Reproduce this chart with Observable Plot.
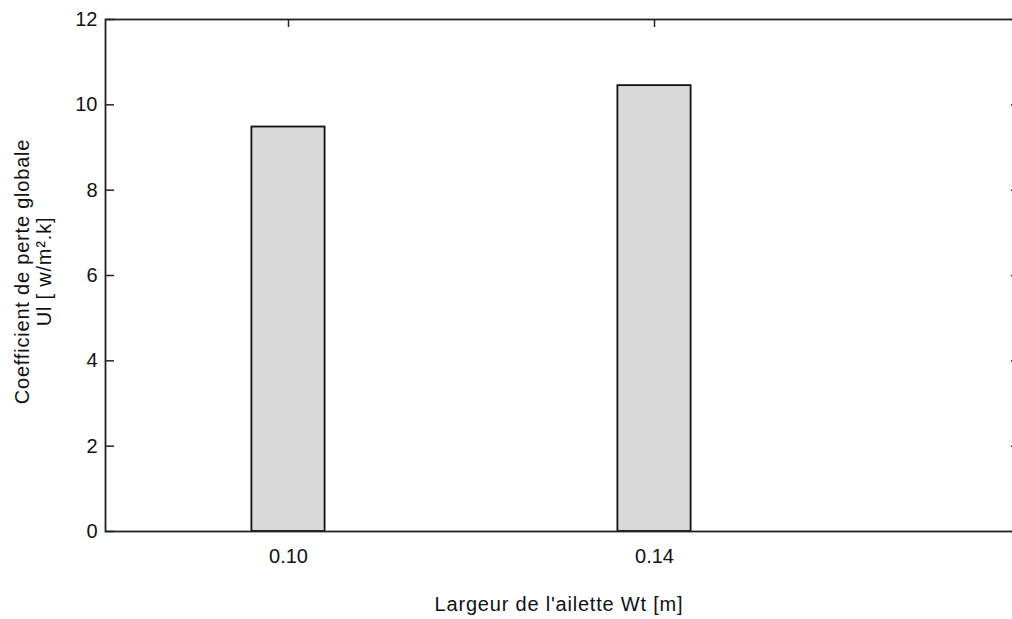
<!DOCTYPE html>
<html>
<head>
<meta charset="utf-8">
<script src="https://cdn.jsdelivr.net/npm/d3@7"></script>
<script src="https://cdn.jsdelivr.net/npm/@observablehq/plot@0.6"></script>
<style>
  html, body { margin: 0; padding: 0; background: #fff; }
  #chart { width: 1012px; height: 619px; overflow: hidden; }
</style>
</head>
<body>
<div id="chart"></div>
<script>
// Data
const categories = ["0.10", "0.14"];          // Largeur de l'ailette Wt [m]
const values = [9.48, 10.45];                 // Ul [w/m².k]
const yTicks = [0, 2, 4, 6, 8, 10, 12];
const xTitle = "Largeur de l'ailette Wt [m]";
const yTitle = "Coefficient de perte globale\nUl [ w/m².k]";

const data = categories.map((c, i) => ({pos: i + 1, label: c, value: values[i]}));
const positions = data.map(d => d.pos);
const barHalf = 0.1;

const W = 1012, H = 619;
const mL = 105, mR = -8, mT = 19, mB = 88;
const frameW = W - mL - mR;   // 915
const frameH = H - mT - mB;   // 512
const tickLen = 9;

const font = "'Liberation Sans', Arial, Helvetica, sans-serif";
const ink = "#222";

const chart = Plot.plot({
  width: W,
  height: H,
  marginLeft: mL,
  marginRight: mR,
  marginTop: mT,
  marginBottom: mB,
  style: {fontFamily: font, fontSize: "20px", color: "#111", background: "#fff", overflow: "visible"},
  x: {type: "linear", domain: [0.5, 3.0], axis: null},
  y: {domain: [0, 12], axis: null},
  marks: [
    // bottom inward ticks (hidden under bars, as in MATLAB)
    Plot.ruleX(positions, {x: d => d, stroke: ink, strokeWidth: 1.5, insetTop: frameH - 8}),
    Plot.rectY(data, {
      x1: d => d.pos - barHalf,
      x2: d => d.pos + barHalf,
      y: "value",
      fill: "#d9d9d9",
      stroke: "#111",
      strokeWidth: 1.8
    }),
    Plot.frame({stroke: ink, strokeWidth: 1.8}),
    // inward ticks: left, right, top
    Plot.ruleY(yTicks, {y: d => d, stroke: ink, strokeWidth: 1.5, insetRight: frameW - tickLen}),
    Plot.ruleY(yTicks, {y: d => d, stroke: ink, strokeWidth: 1.5, insetLeft: frameW - tickLen}),
    Plot.ruleX(positions, {x: d => d, stroke: ink, strokeWidth: 1.5, insetBottom: frameH - 8}),
    // tick labels
    Plot.axisY({anchor: "left", ticks: yTicks, tickSize: 0, tickPadding: 8, tickFormat: d => String(d), label: null, fontSize: 20, fill: "#111"}),
    Plot.axisX({anchor: "bottom", ticks: positions, tickSize: 0, tickPadding: 17, tickFormat: p => categories[p - 1], label: null, fontSize: 20, fill: "#111"}),
    // axis titles
    Plot.text([xTitle], {text: d => d, frameAnchor: "bottom", dx: -4, dy: 73, lineAnchor: "middle", textAnchor: "middle", fontSize: 20, fill: "#111"}),
    Plot.text([yTitle], {text: d => d, frameAnchor: "left", rotate: -90, dx: -73, dy: -4, lineAnchor: "middle", textAnchor: "middle", lineHeight: 1.1, fontSize: 20, fill: "#111"})
  ]
});
document.getElementById("chart").appendChild(chart);
// looser letter spacing for the axis titles, like the reference's screen font
d3.select(chart).selectAll("text").filter(function() {
  const t = this.textContent;
  return t.startsWith("Largeur") || t.startsWith("Coefficient") || t.startsWith("Ul");
}).style("letter-spacing", "0.8px");
</script>
</body>
</html>
